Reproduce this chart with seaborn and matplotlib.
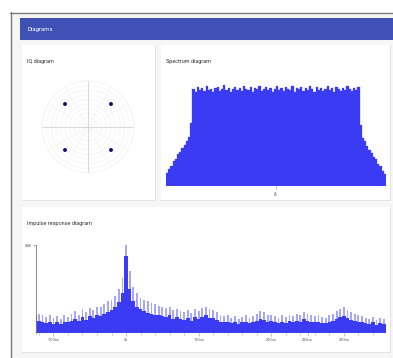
import matplotlib
matplotlib.use('Agg')
import numpy as np
import matplotlib.pyplot as plt
from matplotlib.patches import Rectangle
import seaborn as sns

# IQ constellation (QPSK points)
iq_theta_deg = [45, 135, 225, 315]
iq_r = [0.707, 0.707, 0.707, 0.707]

# spectrum, relative level per frequency bin (0..1)
spec_level = [0.13, 0.17, 0.2, 0.25, 0.27, 0.32, 0.34, 0.38, 0.41, 0.45, 0.49, 0.62,
              0.96, 0.93, 0.98, 0.95, 0.97, 0.94, 0.99, 0.95, 0.96, 0.93,
              0.97, 0.98, 0.94, 0.96, 1.0, 0.95, 0.97, 0.93, 0.96, 0.98,
              0.95, 0.97, 0.94, 0.99, 0.96, 0.95, 0.98, 0.93, 0.97, 0.96,
              0.99, 0.94, 0.96, 0.98, 0.95, 0.97, 0.93, 0.96, 0.99, 0.95,
              0.97, 0.94, 0.98, 0.96, 0.95, 0.99, 0.93, 0.97, 0.96, 0.98,
              0.94, 0.97, 0.95, 0.99, 0.96, 0.93, 0.98, 0.95, 0.97, 0.94,
              0.96, 0.99, 0.95, 0.97, 0.93, 0.98, 0.96, 0.94, 0.97, 0.95,
              0.99, 0.96, 0.94, 0.97, 0.95, 0.98,
              0.6, 0.48, 0.45, 0.4, 0.36, 0.33, 0.29, 0.27, 0.22, 0.2, 0.15, 0.12]
spec_bin = list(range(len(spec_level)))

# impulse response, 5 ns bins from -125 ns
imp_time = list(range(-125, 360, 5))
imp_peak = [0.32, 0.22, 0.2,
            0.18, 0.2, 0.17, 0.19, 0.16, 0.2, 0.18,
            0.22, 0.25, 0.21, 0.27, 0.24, 0.28, 0.26, 0.3, 0.29,
            0.33, 0.36, 0.38, 0.42, 0.5, 0.62,
            1.0,
            0.7, 0.52, 0.45, 0.4, 0.37, 0.36, 0.34, 0.33,
            0.31, 0.3, 0.28, 0.3, 0.26, 0.27, 0.25, 0.24, 0.26, 0.23, 0.27, 0.25,
            0.28, 0.3, 0.27, 0.26, 0.24,
            0.21, 0.19, 0.2, 0.17, 0.19, 0.16, 0.18, 0.2, 0.17, 0.19, 0.22,
            0.25, 0.24, 0.2, 0.21,
            0.19, 0.17, 0.2, 0.18, 0.21, 0.19, 0.22, 0.2,
            0.24, 0.22, 0.21, 0.19, 0.2,
            0.18, 0.17, 0.2, 0.22, 0.25, 0.27, 0.29,
            0.26, 0.24, 0.22, 0.2, 0.19, 0.17,
            0.16, 0.18, 0.15, 0.17, 0.16]
imp_floor = [0.2, 0.14, 0.13,
             0.11, 0.13, 0.1, 0.13, 0.1, 0.12, 0.12,
             0.14, 0.16, 0.14, 0.18, 0.15, 0.19, 0.17, 0.2, 0.19,
             0.22, 0.24, 0.26, 0.29, 0.35, 0.45,
             0.88,
             0.5, 0.36, 0.3, 0.27, 0.25, 0.23, 0.22, 0.21,
             0.2, 0.19, 0.18, 0.2, 0.16, 0.18, 0.16, 0.15, 0.17, 0.14, 0.18, 0.16,
             0.18, 0.2, 0.17, 0.17, 0.15,
             0.13, 0.12, 0.13, 0.11, 0.12, 0.1, 0.12, 0.13, 0.11, 0.12, 0.14,
             0.16, 0.15, 0.13, 0.14,
             0.12, 0.11, 0.13, 0.11, 0.14, 0.12, 0.14, 0.13,
             0.16, 0.14, 0.13, 0.12, 0.13,
             0.11, 0.11, 0.13, 0.14, 0.16, 0.18, 0.19,
             0.17, 0.15, 0.14, 0.13, 0.12, 0.11,
             0.1, 0.12, 0.09, 0.11, 0.1]
imp_ticks = [-100, 0, 100, 200, 250, 300]
imp_ticklabels = ['-100ns', '0s', '100ns', '200ns', '250ns', '300ns']

sns.set_theme(style='white')
plt.rcParams['font.family'] = ['Roboto', 'DejaVu Sans']

W, H = 393, 358
BLUE = '#3b3bf4'


def px(l, t, r, b):
    # pixel box (top-left origin) -> figure fraction
    return [l / W, 1 - b / H, (r - l) / W, (b - t) / H]


fig = plt.figure(figsize=(W / 100, H / 100), dpi=100, facecolor='white')

# page background, header and cards
bg = fig.add_axes([0, 0, 1, 1])
bg.set_xlim(0, W)
bg.set_ylim(H, 0)
bg.axis('off')
bg.add_patch(Rectangle((11, 13), W - 11, H - 13, color='#f6f6f6', lw=0))
bg.plot([10.5, 10.5], [12, H], color='#7a7a7a', lw=1)
bg.plot([10, W], [12.5, 12.5], color='#7a7a7a', lw=1)
bg.add_patch(Rectangle((20, 18), W - 20, 22, color='#3f51b5', lw=0))
bg.text(28, 29.5, 'Diagrams', color='white', fontsize=4.3, va='center')
for (l, t, r, b) in [(22, 45, 155, 200), (161, 45, 390, 200), (22, 207, 390, 352)]:
    bg.add_patch(Rectangle((l, t + 1), r - l + 1, b - t, color='#e3e3e3', lw=0))
    bg.add_patch(Rectangle((l, t), r - l, b - t, color='white', lw=0))
bg.text(27, 61, 'IQ diagram', color='#333333', fontsize=4, va='center')
bg.text(166, 61, 'Spectrum diagram', color='#333333', fontsize=4, va='center')
bg.text(27, 224, 'Impulse response diagram', color='#333333', fontsize=4, va='center')

# IQ diagram
ax1 = fig.add_axes(px(42, 81, 134, 173), projection='polar')
ax1.set_ylim(0, 1)
ax1.set_rticks(np.arange(0.1, 1.01, 0.1))
ax1.set_thetagrids(range(0, 360, 30))
ax1.set_xticklabels([])
ax1.set_yticklabels([])
ax1.grid(color='#f0f0f0', lw=0.4)
ax1.spines['polar'].set_color('#efefef')
ax1.spines['polar'].set_linewidth(0.4)
ax1.set_facecolor('white')
for a in [0, 90, 180, 270]:
    ax1.plot([np.radians(a)] * 2, [0, 1], color='#cdcdcd', lw=0.5)
sns.scatterplot(x=np.radians(iq_theta_deg), y=iq_r, ax=ax1, color='#0b0b7a',
                s=8, edgecolor='none', zorder=5)

# Spectrum diagram
ax2 = fig.add_axes(px(166, 85, 386, 186))
sns.barplot(x=spec_bin, y=spec_level, ax=ax2, color=BLUE, width=1,
            edgecolor=BLUE, linewidth=0.2, saturation=1)
ax2.set_xlim(-0.5, len(spec_level) - 0.5)
ax2.set_ylim(0, 1)
for s in ax2.spines.values():
    s.set_visible(False)
ax2.set_yticks([])
ax2.set_xticks([(len(spec_level) - 1) / 2])
ax2.set_xticklabels(['$f_c$'], fontsize=3.5, color='#444444')
ax2.tick_params(axis='x', length=2, width=0.4, color='#888888', pad=1, bottom=True)
ax2.set_xlabel('')
ax2.set_ylabel('')

# Impulse response diagram: thin light spikes over the solid body
ax3 = fig.add_axes(px(36, 245, 386, 333))
sns.barplot(x=imp_time, y=imp_peak, ax=ax3, native_scale=True, color=BLUE,
            width=0.5, alpha=0.45, edgecolor='none', linewidth=0, saturation=1)
sns.barplot(x=imp_time, y=imp_floor, ax=ax3, native_scale=True, color=BLUE,
            width=1, edgecolor='none', linewidth=0, saturation=1)
ax3.set_xlim(-124, 358)
ax3.set_ylim(0, 1)
for k in ['top', 'right', 'bottom']:
    ax3.spines[k].set_visible(False)
ax3.spines['left'].set_color('#777777')
ax3.spines['left'].set_linewidth(0.6)
ax3.set_xticks(imp_ticks)
ax3.set_xticklabels(imp_ticklabels, fontsize=2.8, color='#555555')
ax3.set_xticks(range(-120, 360, 20), minor=True)
ax3.tick_params(axis='x', which='major', length=2.5, width=0.4, color='#888888', pad=1, bottom=True)
ax3.tick_params(axis='x', which='minor', length=1.5, width=0.4, color='#999999', bottom=True)
ax3.set_yticks([1.0])
ax3.set_yticklabels(['0dB'], fontsize=2.8, color='#555555')
ax3.tick_params(axis='y', length=2, width=0.4, color='#777777', pad=1, left=True)
ax3.set_xlabel('')
ax3.set_ylabel('')

fig.savefig('out.png', dpi=100)
